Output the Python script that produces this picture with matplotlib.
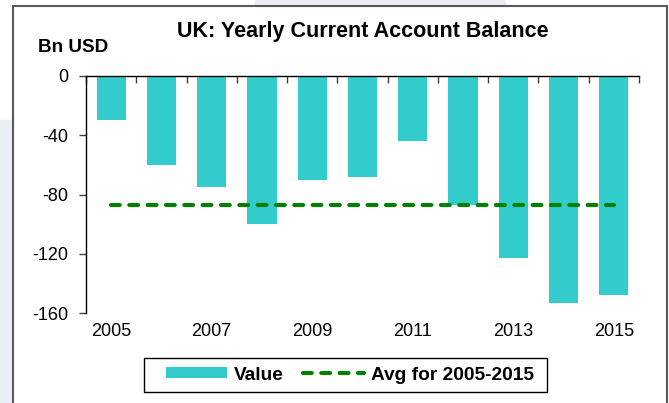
import matplotlib
matplotlib.use("Agg")

import matplotlib.pyplot as plt
from matplotlib.patches import Patch, Rectangle
from matplotlib.lines import Line2D

plt.rcParams["font.family"] = ["Liberation Sans", "DejaVu Sans"]

# dados
anos = [2005, 2006, 2007, 2008, 2009, 2010, 2011, 2012, 2013, 2014, 2015]
valores = [-30, -60, -75, -100, -70, -68, -44, -87, -123, -153, -148]
media = -87.1
anos_rotulo = ["2005", "2007", "2009", "2011", "2013", "2015"]
yticks = [0, -40, -80, -120, -160]

W, H = 669, 403

fig = plt.figure(figsize=(W / 100, H / 100), dpi=100)

# marca d'água / moldura
fig.patches.append(Rectangle((0, 0), 13 / W, 1 - 120 / H, transform=fig.transFigure,
                             color="#ECEEF5", zorder=0))
fig.patches.append(Rectangle((255 / W, 1 - 6 / H), 250 / W, 6 / H, transform=fig.transFigure,
                             color="#ECEEF5", zorder=0))
fig.patches.append(Rectangle((13 / W, -0.05), (667 - 13) / W, 1.05 - 6 / H,
                             transform=fig.transFigure, fill=False,
                             edgecolor="#5A5A5A", linewidth=1.5, zorder=1))

ax = fig.add_axes([86 / W, 1 - 313 / H, (639 - 86) / W, (313 - 76) / H])
ax.patch.set_alpha(0)

x = list(range(len(anos)))

ax.bar(x, valores, width=0.58, color="#33CCCC", zorder=2)

ax.plot([x[0], x[-1]], [media, media], color="#008000", linewidth=3,
        dashes=(2.1, 2.3), dash_capstyle="round", zorder=3)

ax.set_xlim(-0.5, len(anos) - 0.5)
ax.set_ylim(-160, 0)

for lado in ["right", "bottom"]:
    ax.spines[lado].set_visible(False)
for lado in ["left", "top"]:
    ax.spines[lado].set_linewidth(1.0)
    ax.spines[lado].set_color("black")

# marcas entre as categorias no eixo superior
ax.set_xticks([i - 0.5 for i in range(len(anos) + 1)])
ax.set_xticks([anos.index(int(a)) for a in anos_rotulo], minor=True)
ax.set_xticklabels(anos_rotulo, minor=True)
ax.tick_params(axis="x", which="major", top=True, bottom=False, direction="in",
               length=5, width=1, color="#404040", labeltop=False, labelbottom=False)
ax.tick_params(axis="x", which="minor", top=False, bottom=True, length=0,
               labelbottom=True, labelsize=13, pad=7)

ax.set_yticks(yticks)
ax.set_yticklabels([str(v) for v in yticks])
ax.tick_params(axis="y", direction="out", length=5, width=1, color="#404040",
               labelsize=13, pad=8)

fig.text(363 / W, 1 - 32 / H, "UK: Yearly Current Account Balance",
         ha="center", va="center", fontsize=15.5, fontweight="bold")
fig.text(38 / W, 1 - 47 / H, "Bn USD", ha="left", va="center",
         fontsize=13.6, fontweight="bold")

# legenda: conteúdo sem moldura + retângulo próprio
handles = [
    Patch(facecolor="#33CCCC", edgecolor="none", label="Value"),
    Line2D([], [], color="#008000", linewidth=3, dashes=(2.1, 2.3),
           dash_capstyle="round", label="Avg for 2005-2015"),
]
fig.legend(handles=handles, loc="center", ncol=2,
           bbox_to_anchor=(350 / W, 1 - 375 / H), frameon=False,
           prop={"weight": "bold", "size": 13.8},
           handlelength=3.2, handleheight=0.5, handletextpad=0.37,
           columnspacing=1.0, borderpad=0.2, borderaxespad=0)
fig.patches.append(Rectangle((144 / W, 1 - 392 / H), (547 - 144) / W, 34 / H,
                             transform=fig.transFigure, fill=False,
                             edgecolor="black", linewidth=1.0, zorder=1))

fig.savefig("out.png", dpi=100)
